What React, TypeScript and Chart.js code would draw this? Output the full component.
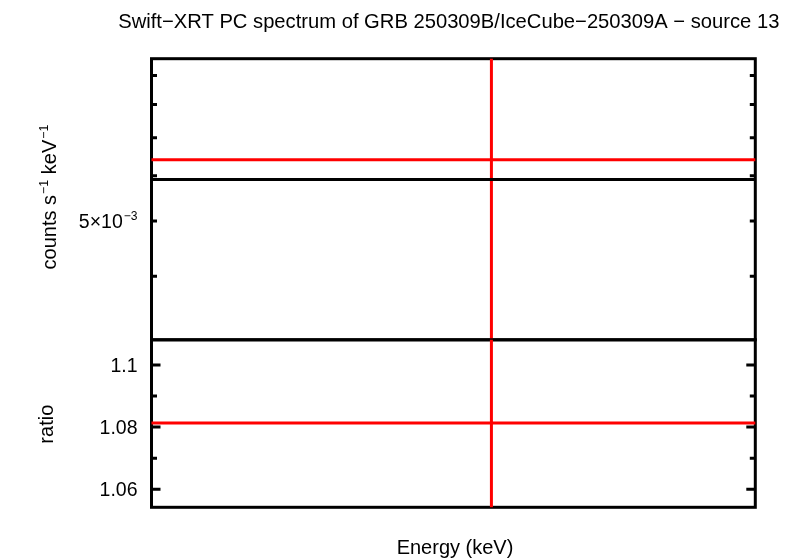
import React, { useEffect, useRef } from "react";
import { Chart, registerables } from "chart.js";

Chart.register(...registerables);

// ---------- data ----------
const TITLE = "Swift\u2212XRT PC spectrum of GRB 250309B/IceCube\u2212250309A \u2212 source 13";
const X_TITLE = "Energy (keV)";
const TOP_Y_TITLE = [
  { text: "counts s" },
  { text: "\u22121", sup: true },
  { text: " keV" },
  { text: "\u22121", sup: true },
];
const BOTTOM_Y_TITLE = "ratio";

const ENERGY_AXIS = [0.3, 10]; // keV, log axis
const BIN_CENTER = [2.16];
const BIN_LO = [0.1];
const BIN_HI = [30];

const RATE = [6.4e-3];
const RATE_LO = [2.0e-3];
const RATE_HI = [1.5e-2];
const MODEL = [5.91e-3];

const RATIO = [1.0813];
const RATIO_LO = [0.4];
const RATIO_HI = [1.9];

const TOP_Y_RANGE = [3.093e-3, 9.63e-3];
const BOTTOM_Y_RANGE = [1.0542, 1.1081];

const TOP_MAJOR_TICKS = [5e-3];
const TOP_MAJOR_LABELS = [[{ text: "5\u00d710" }, { text: "\u22123", sup: true }]];
const TOP_MINOR_TICKS = [4e-3, 6e-3, 7e-3, 8e-3, 9e-3];
const BOTTOM_MAJOR_TICKS = [1.06, 1.08, 1.1];
const BOTTOM_MAJOR_LABELS = ["1.06", "1.08", "1.1"];
const BOTTOM_MINOR_TICKS = [1.07, 1.09];

// ---------- layout ----------
const W = 794;
const H = 558;
const LEFT = 151.5;
const RIGHT = 755.3;
const TOP = 58.7;
const MID = 339.8;
const BOTTOM = 507.3;
const FONT = '"Liberation Sans", Arial, Helvetica, sans-serif';
const FS = 19.5;
const FS_TITLE = 20.2;
const FS_YTITLE = 20;

type Part = { text: string; sup?: boolean };

function richWidth(ctx: CanvasRenderingContext2D, parts: Part[], fs: number) {
  let w = 0;
  for (const p of parts) {
    ctx.font = `${p.sup ? fs * 0.62 : fs}px ${FONT}`;
    w += ctx.measureText(p.text).width + (p.sup ? 1 : 0);
  }
  return w;
}

function drawRich(
  ctx: CanvasRenderingContext2D,
  parts: Part[],
  x: number,
  y: number,
  align: "left" | "right" | "center",
  fs: number
) {
  const w = richWidth(ctx, parts, fs);
  let cx = align === "left" ? x : align === "right" ? x - w : x - w / 2;
  ctx.textAlign = "left";
  ctx.textBaseline = "alphabetic";
  for (const p of parts) {
    ctx.font = `${p.sup ? fs * 0.62 : fs}px ${FONT}`;
    const dy = p.sup ? -fs * 0.42 : 0;
    if (p.sup) cx += 1;
    ctx.fillText(p.text, cx, y + dy);
    cx += ctx.measureText(p.text).width;
  }
}

function makePanelPlugin(kind: "top" | "bottom") {
  return {
    id: "panel-" + kind,
    beforeDatasetsDraw(chart: any) {
      const ctx: CanvasRenderingContext2D = chart.ctx;
      const { left, right, top, bottom } = chart.chartArea;
      const ys = chart.scales.y;
      ctx.save();
      ctx.fillStyle = "#000";
      ctx.strokeStyle = "#000";
      ctx.lineWidth = 3;
      ctx.lineCap = "butt";
      // frame
      ctx.strokeRect(left, top, right - left, bottom - top);
      // ticks
      const drawTick = (v: number, len: number) => {
        const py = ys.getPixelForValue(v);
        ctx.beginPath();
        ctx.moveTo(left, py);
        ctx.lineTo(left + len, py);
        ctx.moveTo(right, py);
        ctx.lineTo(right - len, py);
        ctx.stroke();
      };
      if (kind === "top") {
        TOP_MAJOR_TICKS.forEach((v) => drawTick(v, 5.5));
        TOP_MINOR_TICKS.forEach((v) => drawTick(v, 5.5));
        TOP_MAJOR_TICKS.forEach((v, i) => {
          const py = ys.getPixelForValue(v);
          drawRich(ctx, TOP_MAJOR_LABELS[i] as Part[], left - 14, py + FS * 0.36, "right", FS);
        });
        // title
        ctx.font = `${FS_TITLE}px ${FONT}`;
        ctx.textAlign = "center";
        ctx.textBaseline = "alphabetic";
        ctx.fillText(TITLE, 448.8, 27.6);
        // y title
        ctx.save();
        ctx.translate(56, 197);
        ctx.rotate(-Math.PI / 2);
        drawRich(ctx, TOP_Y_TITLE, 0, 0, "center", FS_YTITLE);
        ctx.restore();
      } else {
        BOTTOM_MAJOR_TICKS.forEach((v) => drawTick(v, 9));
        BOTTOM_MINOR_TICKS.forEach((v) => drawTick(v, 5.5));
        ctx.font = `${FS}px ${FONT}`;
        ctx.textAlign = "right";
        ctx.textBaseline = "alphabetic";
        BOTTOM_MAJOR_TICKS.forEach((v, i) => {
          const py = ys.getPixelForValue(v);
          ctx.fillText(BOTTOM_MAJOR_LABELS[i], left - 14, py + FS * 0.36);
        });
        ctx.save();
        ctx.font = `${FS_YTITLE}px ${FONT}`;
        ctx.translate(52.5, 424.2);
        ctx.rotate(-Math.PI / 2);
        ctx.textAlign = "center";
        ctx.fillText(BOTTOM_Y_TITLE, 0, 0);
        ctx.restore();
        ctx.font = `${FS_YTITLE}px ${FONT}`;
        ctx.textAlign = "center";
        ctx.fillText(X_TITLE, 455, 554);
      }
      ctx.restore();
    },
  };
}

function seg(x0: number, y0: number, x1: number, y1: number) {
  return [
    { x: x0, y: y0 },
    { x: x1, y: y1 },
  ];
}

function lineDs(data: any[], color: string) {
  return {
    type: "line" as const,
    data,
    borderColor: color,
    backgroundColor: color,
    borderWidth: 3,
    pointRadius: 0,
    fill: false,
    tension: 0,
    showLine: true,
    clip: 0,
  };
}

export default function App() {
  const topRef = useRef<HTMLCanvasElement>(null);
  const botRef = useRef<HTMLCanvasElement>(null);

  useEffect(() => {
    const common = (pad: any, yScale: any) => ({
      animation: false as const,
      responsive: false,
      maintainAspectRatio: false,
      devicePixelRatio: 1,
      layout: { padding: pad },
      plugins: { legend: { display: false }, title: { display: false }, tooltip: { enabled: false } },
      events: [],
      scales: {
        x: { type: "logarithmic", min: ENERGY_AXIS[0], max: ENERGY_AXIS[1], display: false },
        y: yScale,
      },
    });

    const top = new Chart(topRef.current!, {
      type: "line",
      data: {
        datasets: [
          lineDs(seg(BIN_LO[0], MODEL[0], BIN_HI[0], MODEL[0]), "#000000"),
          lineDs(seg(BIN_LO[0], RATE[0], BIN_HI[0], RATE[0]), "#ff0000"),
          lineDs(seg(BIN_CENTER[0], RATE_LO[0], BIN_CENTER[0], RATE_HI[0]), "#ff0000"),
        ],
      },
      options: common(
        { left: LEFT, right: W - RIGHT, top: TOP, bottom: H - MID },
        { type: "logarithmic", min: TOP_Y_RANGE[0], max: TOP_Y_RANGE[1], display: false }
      ) as any,
      plugins: [makePanelPlugin("top")],
    });

    const bot = new Chart(botRef.current!, {
      type: "line",
      data: {
        datasets: [
          lineDs(seg(BIN_LO[0], RATIO[0], BIN_HI[0], RATIO[0]), "#ff0000"),
          lineDs(seg(BIN_CENTER[0], RATIO_LO[0], BIN_CENTER[0], RATIO_HI[0]), "#ff0000"),
        ],
      },
      options: common(
        { left: LEFT, right: W - RIGHT, top: MID, bottom: H - BOTTOM },
        { type: "linear", min: BOTTOM_Y_RANGE[0], max: BOTTOM_Y_RANGE[1], display: false }
      ) as any,
      plugins: [makePanelPlugin("bottom")],
    });

    return () => {
      top.destroy();
      bot.destroy();
    };
  }, []);

  const style: React.CSSProperties = { position: "absolute", left: 0, top: 0, width: W, height: H };
  return (
    <div style={{ position: "absolute", left: 0, top: 0, width: W, height: H, background: "#fff" }}>
      <canvas ref={topRef} width={W} height={H} style={style} />
      <canvas ref={botRef} width={W} height={H} style={style} />
    </div>
  );
}
